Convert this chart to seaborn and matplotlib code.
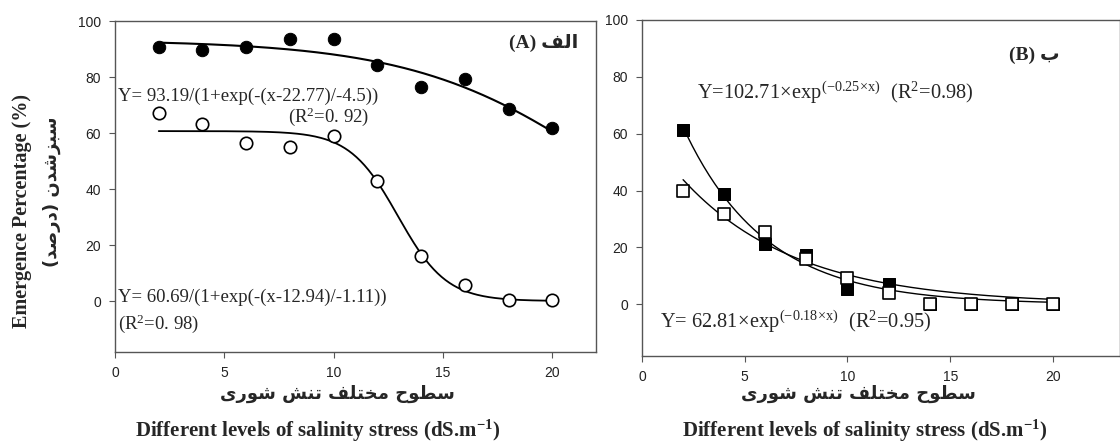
import numpy as np
import pandas as pd
import matplotlib
matplotlib.use("Agg")
import matplotlib.pyplot as plt
import seaborn as sns

# salinity levels (dS/m)
salinity = [2, 4, 6, 8, 10, 12, 14, 16, 18, 20]

# panel A: circles
a_filled = [90.8, 89.6, 90.8, 93.6, 93.6, 84.3, 76.3, 79.2, 68.5, 61.7]
a_open = [67.0, 63.1, 56.3, 54.9, 58.9, 42.9, 16.2, 5.7, 0.4, 0.4]
# sigmoid fits: a / (1 + exp(-(x - x0) / b))
a_filled_fit = [93.19, 22.77, -4.5]
a_open_fit = [60.69, 12.94, -1.11]

# panel B: squares
b_filled = [61.3, 38.7, 21.2, 17.5, 5.2, 7.0, 0.0, 0.0, 0.0, 0.0]
b_open = [39.9, 31.9, 25.5, 16.0, 9.4, 3.8, 0.0, 0.0, 0.0, 0.0]
# exponential fits: a * exp(b * x)
b_filled_fit = [102.71, -0.25]
b_open_fit = [62.81, -0.18]

x_ticks = [0, 5, 10, 15, 20]
y_ticks = [0, 20, 40, 60, 80, 100]

# Arabic presentation forms (isolated, final, initial, medial)
FORMS = {
    "ا": ("\uFE8D", "\uFE8E", None, None),
    "ب": ("\uFE8F", "\uFE90", "\uFE91", "\uFE92"),
    "ت": ("\uFE95", "\uFE96", "\uFE97", "\uFE98"),
    "ح": ("\uFEA1", "\uFEA2", "\uFEA3", "\uFEA4"),
    "خ": ("\uFEA5", "\uFEA6", "\uFEA7", "\uFEA8"),
    "د": ("\uFEA9", "\uFEAA", None, None),
    "ر": ("\uFEAD", "\uFEAE", None, None),
    "ز": ("\uFEAF", "\uFEB0", None, None),
    "س": ("\uFEB1", "\uFEB2", "\uFEB3", "\uFEB4"),
    "ش": ("\uFEB5", "\uFEB6", "\uFEB7", "\uFEB8"),
    "ص": ("\uFEB9", "\uFEBA", "\uFEBB", "\uFEBC"),
    "ط": ("\uFEC1", "\uFEC2", "\uFEC3", "\uFEC4"),
    "ف": ("\uFED1", "\uFED2", "\uFED3", "\uFED4"),
    "ل": ("\uFEDD", "\uFEDE", "\uFEDF", "\uFEE0"),
    "م": ("\uFEE1", "\uFEE2", "\uFEE3", "\uFEE4"),
    "ن": ("\uFEE5", "\uFEE6", "\uFEE7", "\uFEE8"),
    "و": ("\uFEED", "\uFEEE", None, None),
    "ی": ("\uFBFC", "\uFBFD", "\uFBFE", "\uFBFF"),
}


def shape(text):
    """Join Persian letters and put them in visual (left-to-right) order."""
    out = []
    for i, ch in enumerate(text):
        if ch not in FORMS:
            out.append(ch)
            continue
        prev = text[i - 1] if i > 0 else ""
        nxt = text[i + 1] if i + 1 < len(text) else ""
        join_prev = prev in FORMS and FORMS[prev][2] is not None
        join_next = FORMS[ch][2] is not None and nxt in FORMS
        iso, fin, ini, med = FORMS[ch]
        if join_prev and join_next:
            out.append(med)
        elif join_prev:
            out.append(fin)
        elif join_next:
            out.append(ini)
        else:
            out.append(iso)
    vis = "".join(reversed(out))
    return vis.translate(str.maketrans("()", ")("))


sns.set_style("ticks")
plt.rcParams["font.family"] = ["Liberation Sans", "DejaVu Sans"]
plt.rcParams["mathtext.fontset"] = "custom"
plt.rcParams["mathtext.rm"] = "Liberation Serif"
plt.rcParams["mathtext.it"] = "Liberation Serif:italic"
plt.rcParams["mathtext.bf"] = "Liberation Serif:bold"

SERIF = ["Liberation Serif", "DejaVu Sans"]
SPINE = "#555555"
EQ_SIZE = 13.5
EQ_SIZE_B = 14.7

fig = plt.figure(figsize=(11.2, 4.47), dpi=100)
ax_a = fig.add_axes([0.1027, 0.2125, 0.4295, 0.7405])
ax_b = fig.add_axes([0.5732, 0.2036, 0.4268, 0.7517])

xs = np.linspace(2, 20, 200)


def style_axes(ax, xmax):
    ax.set_xlim(0, xmax)
    ax.set_ylim(-18.2, 100)
    ax.set_xticks(x_ticks)
    ax.set_yticks(y_ticks)
    for spine in ax.spines.values():
        spine.set_visible(True)
        spine.set_color(SPINE)
        spine.set_linewidth(1.0)
    ax.tick_params(direction="out", length=4, width=0.8, color=SPINE,
                   labelsize=10, labelcolor="#222222", pad=6)
    ax.set_xlabel("")
    ax.set_ylabel("")


# ---- panel A ----
p = a_filled_fit
fit_a1 = pd.DataFrame({"x": xs, "y": p[0] / (1 + np.exp(-(xs - p[1]) / p[2]))})
p = a_open_fit
fit_a2 = pd.DataFrame({"x": xs, "y": p[0] / (1 + np.exp(-(xs - p[1]) / p[2]))})
sns.lineplot(data=fit_a1, x="x", y="y", ax=ax_a, color="black", lw=1.5)
sns.lineplot(data=fit_a2, x="x", y="y", ax=ax_a, color="black", lw=1.3)
sns.scatterplot(x=salinity, y=a_filled, ax=ax_a, marker="o", s=80,
                color="black", edgecolor="black", zorder=3)
sns.scatterplot(x=salinity, y=a_open, ax=ax_a, marker="o", s=80,
                facecolor="white", edgecolor="black", linewidth=1.2, zorder=3)
style_axes(ax_a, 22)

ax_a.text(0.15, 73, "Y= 93.19/(1+exp(-(x-22.77)/-4.5))", fontsize=EQ_SIZE,
          family=SERIF, va="center", ha="left")
ax_a.text(7.9, 65.7, r"(R$^{\rm 2}$=0. 92)", fontsize=EQ_SIZE,
          family=SERIF, va="center", ha="left")
ax_a.text(0.15, 1.5, "Y= 60.69/(1+exp(-(x-12.94)/-1.11))", fontsize=EQ_SIZE,
          family=SERIF, va="center", ha="left")
ax_a.text(0.15, -8, r"(R$^{\rm 2}$=0. 98)", fontsize=EQ_SIZE,
          family=SERIF, va="center", ha="left")
ax_a.text(21.2, 92, "(A) " + shape("الف"), fontsize=14, weight="bold",
          family=SERIF, va="center", ha="right")

# ---- panel B ----
p = b_filled_fit
fit_b1 = pd.DataFrame({"x": xs, "y": p[0] * np.exp(p[1] * xs)})
p = b_open_fit
fit_b2 = pd.DataFrame({"x": xs, "y": p[0] * np.exp(p[1] * xs)})
sns.lineplot(data=fit_b1, x="x", y="y", ax=ax_b, color="black", lw=1.0)
sns.lineplot(data=fit_b2, x="x", y="y", ax=ax_b, color="black", lw=1.0)
sns.scatterplot(x=salinity, y=b_filled, ax=ax_b, marker="s", s=80,
                color="black", edgecolor="black", zorder=3)
sns.scatterplot(x=salinity, y=b_open, ax=ax_b, marker="s", s=80,
                facecolor="white", edgecolor="black", linewidth=1.2, zorder=4)
style_axes(ax_b, 23.26)

ax_b.text(2.7, 74.3,
          r"Y=102.71$\!\times\!$exp$^{\rm (-0.25\!\times\! x)}$  (R$^{\rm 2}$=0.98)",
          fontsize=EQ_SIZE_B, family=SERIF, va="center", ha="left")
ax_b.text(0.9, -6.3,
          r"Y= 62.81$\!\times\!$exp$^{\rm (-0.18\!\times\! x)}$  (R$^{\rm 2}$=0.95)",
          fontsize=EQ_SIZE_B, family=SERIF, va="center", ha="left")
ax_b.text(20.3, 87.7, "(B) " + shape("ب"), fontsize=14, weight="bold",
          family=SERIF, va="center", ha="right")

# ---- axis titles ----
fig.text(22 / 1120, 1 - 211 / 447, "Emergence Percentage (%)", rotation=90,
         fontsize=14.5, weight="bold", family=SERIF, ha="center", va="center")
fig.text(52 / 1120, 1 - 192 / 447, shape("سبزشدن (درصد)"), rotation=90,
         fontsize=13, weight="bold", family=["DejaVu Sans"], ha="center", va="center")

xlab_en = r"Different levels of salinity stress (dS.m$^{\mathbf{-1}}$)"
xlab_fa = shape("سطوح مختلف تنش شوری")
for cx in (337, 858):
    fig.text(cx / 1120, 1 - 394 / 447, xlab_fa, fontsize=13, weight="bold",
             family=["DejaVu Sans"], ha="center", va="center")
for cx in (318, 865):
    fig.text(cx / 1120, 1 - 431 / 447, xlab_en, fontsize=15, weight="bold",
             family=SERIF, ha="center", va="center")

fig.savefig("out.png", dpi=100, facecolor="white")
